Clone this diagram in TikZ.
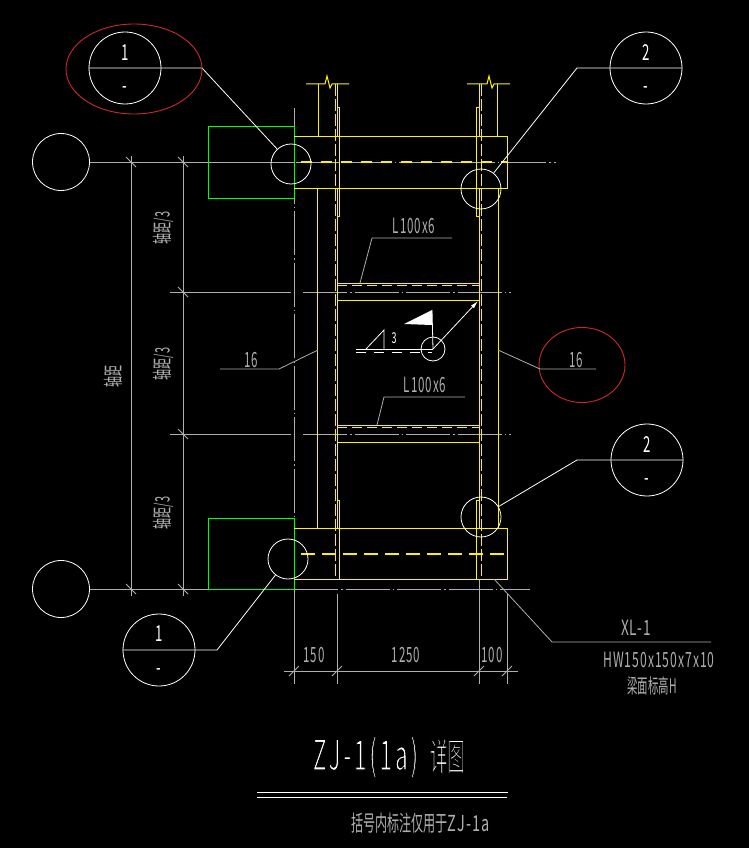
\documentclass[tikz,border=0pt]{standalone}
\usepackage{fontspec}
\usepackage{graphicx}
\setmainfont{Noto Sans CJK SC}
\definecolor{axisgray}{RGB}{175,175,175}
\definecolor{markred}{RGB}{205,40,45}
\newcommand{\narrow}[2][0.6]{\scalebox{#1}[1]{#2}}
\newcommand{\spaced}[2][0.55]{\scalebox{#1}[1]{\addfontfeature{LetterSpace=8}#2}}
\newcommand{\thinned}[1]{\special{pdf:code 2 Tr 0 G 1.3 w}#1\special{pdf:code 0 Tr}}
\tikzset{
  x=1pt,y=-1pt,
  yel/.style={draw=yellow,line width=1pt},
  yeldash/.style={draw=yellow,line width=1pt,dash pattern=on 12pt off 3pt},
  beamdash/.style={draw=yellow,line width=1.5pt,dash pattern=on 11pt off 9pt},
  grn/.style={draw=green,line width=1pt},
  axisline/.style={draw=axisgray,line width=0.8pt,dash pattern=on 44pt off 3pt on 1.5pt off 3pt},
  dimline/.style={draw=axisgray,line width=0.8pt},
  wht/.style={draw=white,line width=0.8pt},
  bubble/.style={circle,draw=white,line width=0.8pt,inner sep=0pt,minimum size=72pt},
  blank/.style={circle,draw=white,line width=0.8pt,inner sep=0pt,minimum size=57pt},
  detail/.style={circle,draw=white,line width=0.8pt,inner sep=0pt,minimum size=40pt},
  redmark/.style={ellipse,draw=markred,line width=0.9pt,inner sep=0pt},
  lab/.style={text=axisgray,inner sep=0pt,font=\fontsize{21pt}{22pt}\selectfont},
  rlab/.style={text=axisgray,inner sep=0pt,font=\fontsize{20pt}{21pt}\selectfont},
  blab/.style={text=white,inner sep=0pt,font=\fontsize{22pt}{23pt}\selectfont},
  tick/.style={draw=axisgray,line width=0.8pt},
}
\usetikzlibrary{shapes.geometric,arrows.meta}
\begin{document}
\begin{tikzpicture}
\useasboundingbox (0,0) rectangle (749,848);
\fill[black] (0,0) rectangle (749,848);

% axes
\draw[axisline] (294,108) -- (294,684);
\draw[dimline] (294,520) -- (294,684);
\draw[axisline] (90,162) -- (556,162);
\draw[dimline] (90,162) -- (294,162);
\draw[dimline] (170,292) -- (291,292);
\draw[axisline] (303,292) -- (511,292);
\draw[dimline] (170,434) -- (291,434);
\draw[axisline] (303,434) -- (511,434);
\draw[dimline] (90,589) -- (294,589);
\draw[axisline] (294,589) -- (530,589);

% vertical dimensions
\draw[dimline] (131,156) -- (131,596);
\draw[dimline] (183,156) -- (183,596);
\foreach \xx/\yy in {131/162,183/162,183/292,183/434,131/589,183/589}
  \draw[tick] (\xx-5,\yy-5) -- (\xx+5,\yy+5);
\node[rlab,rotate=90] (d1) at (163,228) {\narrow[0.55]{轴距/3}};
\node[rlab,rotate=90] (d2) at (163,364) {\narrow[0.55]{轴距/3}};
\node[rlab,rotate=90] (d3) at (163,513) {\narrow[0.55]{轴距/3}};
\node[rlab,rotate=90] (d4) at (113,376) {\narrow[0.55]{轴距}};

% horizontal dimensions
\draw[dimline] (284,671) -- (518,671);
\draw[dimline] (337,594) -- (337,684);
\draw[dimline] (479,580) -- (479,684);
\draw[dimline] (507,594) -- (507,684);
\foreach \xx in {294,337,479,507}
  \draw[tick] (\xx-5,676) -- (\xx+5,666);
\node[lab] (w1) at (314,655) {\spaced{150}};
\node[lab] (w2) at (406,655) {\spaced{1250}};
\node[lab] (w3) at (492,655) {\spaced{100}};

% green end blocks
\draw[grn] (294,127) -- (208,127) -- (208,198) -- (294,198) -- cycle;
\draw[grn] (294,518) -- (208,518) -- (208,589) -- (294,589) -- cycle;

% beams
\draw[yel] (294,136) -- (507,136) -- (507,188) -- (294,188);
\draw[yel] (294,528) -- (507,528) -- (507,579) -- (294,579);
\draw[beamdash] (301,162) -- (507,162);
\draw[beamdash,dash pattern=on 14pt off 7pt] (301,554) -- (507,554);

% columns
\draw[yel] (318,84) -- (318,136);
\draw[yel] (337,84) -- (337,136);
\draw[yel] (479,84) -- (479,136);
\draw[yel] (497,84) -- (497,136);
\draw[yel] (317,188) -- (317,528);
\draw[yel] (337,188) -- (337,528);
\draw[yel] (479,188) -- (479,528);
\draw[yel] (498,188) -- (498,528);
\draw[yeldash] (335,84) -- (335,579);
\draw[yeldash] (481,84) -- (481,579);
\draw[yel] (306,84) -- (325,84) -- (327,76) -- (330,88) -- (332,84) -- (349,84);
\draw[yel] (467,84) -- (487,84) -- (489,76) -- (492,88) -- (494,84) -- (510,84);

% stiffener plates
\draw[yel] (337,108) -- (339.5,108) -- (339.5,216) -- (337,216);
\draw[yel] (479,108) -- (476.5,108) -- (476.5,216) -- (479,216);
\draw[yel] (337,500) -- (339.5,500) -- (339.5,579);
\draw[yel] (479,500) -- (476.5,500) -- (476.5,579);

% L100x6 members
\draw[yel] (337,283) -- (479,283);
\draw[yel,dash pattern=on 10pt off 5pt] (337,285.5) -- (479,285.5);
\draw[yel] (337,300) -- (479,300);
\draw[yel] (337,425) -- (479,425);
\draw[yel,dash pattern=on 10pt off 5pt] (337,427.5) -- (479,427.5);
\draw[yel] (337,442) -- (479,442);

% detail circles
\node[detail] (tl) at (291,164) {};
\node[detail] (tr) at (481,189) {};
\node[detail] (bl) at (288,559) {};
\node[detail] (br) at (481,517) {};

% reference bubbles
\node[bubble] (b1) at (125,68) {};
\node[bubble] (b2) at (646,68) {};
\node[bubble] (b3) at (647,460) {};
\node[bubble] (b4) at (159,650) {};
\node[blank] (g1) at (61,162) {};
\node[blank] (g2) at (61,589) {};
\node[blab] (t1) at (125,53) {\narrow{1}};
\node[blab] (t1b) at (125,90) {\narrow{-}};
\node[blab] (t2) at (646,53) {\narrow{2}};
\node[blab] (t2b) at (646,90) {\narrow{-}};
\node[blab] (t3) at (647,445) {\narrow{2}};
\node[blab] (t3b) at (647,482) {\narrow{-}};
\node[blab] (t4) at (159,634) {\narrow{1}};
\node[blab] (t4b) at (159,672) {\narrow{-}};

% leaders
\coordinate (k1) at (202,68);
\coordinate (k2) at (577,68);
\coordinate (k3) at (577,460);
\coordinate (k4) at (217,650);
\draw[wht] (b1.west) -- (k1) -- (tl);
\draw[wht] (b2.east) -- (k2) -- (tr);
\draw[wht] (b3.east) -- (k3) -- (br);
\draw[wht] (b4.west) -- (k4) -- (bl);

% red marks
\node[redmark,minimum width=136pt,minimum height=90pt] (r1) at (134,69) {};
\node[redmark,minimum width=86pt,minimum height=75pt] (r2) at (582,365) {};

% weld sizes 16
\coordinate (s1) at (220,369);
\coordinate (s2) at (279,369);
\coordinate (s3) at (318,350);
\draw[dimline] (s1) -- (s2) -- (s3);
\node[lab] (n16a) at (251,360) {\spaced{16}};
\coordinate (s4) at (596,369);
\coordinate (s5) at (540,369);
\coordinate (s6) at (498,350);
\draw[dimline] (s4) -- (s5) -- (s6);
\node[lab] (n16b) at (576,360) {\spaced{16}};

% L100x6 labels
\coordinate (l1) at (360,283);
\coordinate (l2) at (372,238);
\coordinate (l3) at (452,238);
\draw[dimline] (l1) -- (l2) -- (l3);
\node[lab] (la) at (414,226) {\spaced{L100x6}};
\coordinate (l4) at (377,425);
\coordinate (l5) at (384,397);
\coordinate (l6) at (465,397);
\draw[dimline] (l4) -- (l5) -- (l6);
\node[lab] (lb) at (425,385) {\spaced{L100x6}};

% weld symbol
\node[circle,draw=white,line width=0.8pt,inner sep=0pt,minimum size=24pt] (wc) at (433,349) {};
\coordinate (wa) at (356,349);
\coordinate (wp) at (432,310);
\coordinate (wt) at (478,301);
\draw[wht] (wa) -- (wc.center);
\draw[wht,dash pattern=on 10pt off 8pt] (356,352) -- (432,352);
\draw[wht] (366,349) -- (384,330) -- (384,349);
\draw[wht] (wc.center) -- (wp);
\fill[white] (404,324) -- (432,310) -- (432,325) -- cycle;
\draw[wht,-{Latex[length=8pt,width=4pt]}] (wc.center) -- (wt);
\node[text=white,inner sep=0pt,font=\fontsize{15pt}{16pt}\selectfont] (w3n) at (394,338) {\narrow{3}};

% XL-1 leader
\coordinate (x1) at (494,579);
\coordinate (x2) at (552,642);
\coordinate (x3) at (711,642);
\draw[dimline] (x1) -- (x2) -- (x3);
\node[lab] (xl) at (636,628) {\spaced[0.65]{XL-1}};
\node[lab] (hw) at (659,660) {\spaced[0.58]{HW150x150x7x10}};
\node[rlab] (em) at (652,686) {\narrow[0.52]{梁面标高H}};

% title
\node[text=white,inner sep=0pt,font=\fontsize{42pt}{44pt}\selectfont] (ta) at (365.5,757) {\scalebox{0.54}[1]{\addfontfeature{LetterSpace=12}\thinned{ZJ-1(1a)}}};
\node[text=white,inner sep=0pt,font=\fontsize{38pt}{40pt}\selectfont] (tb) at (447.5,756) {\narrow[0.46]{\thinned{详图}}};
\draw[draw=white,line width=0.9pt] (257,792) -- (508,792);
\draw[draw=white,line width=0.9pt] (257,797) -- (507,797);
\node[lab,font=\fontsize{22pt}{23pt}\selectfont] (note) at (420.5,823) {\narrow[0.55]{括号内标注仅用于}\spaced[0.66]{ZJ-1a}};
\end{tikzpicture}
\end{document}
